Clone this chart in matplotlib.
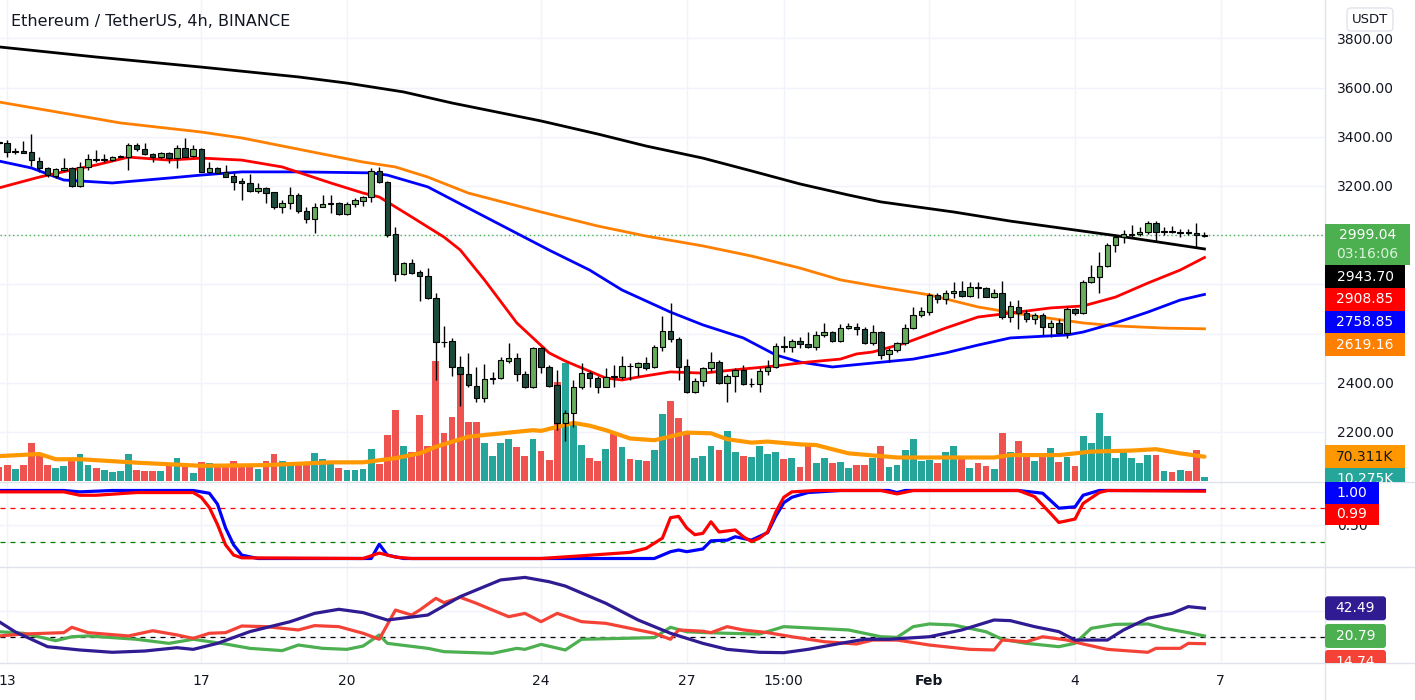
import matplotlib.pyplot as plt
import matplotlib.transforms as mtransforms
from matplotlib.patches import Rectangle, FancyBboxPatch
from matplotlib.lines import Line2D

# ---------------- data (ETH/USDT 4h candles) ----------------
OPEN = [3380, 3373, 3338, 3342, 3336, 3302, 3271, 3240, 3264, 3271,
        3199, 3278, 3308, 3306, 3305, 3317, 3319, 3366, 3348, 3329,
        3316, 3332, 3312, 3353, 3321, 3348, 3258, 3271, 3258, 3240,
        3221, 3210, 3181, 3190, 3174, 3116, 3129, 3163, 3099, 3064,
        3116, 3128, 3129, 3086, 3125, 3140, 3154, 3262, 3217, 3003,
        2841, 2885, 2849, 2834, 2743, 2567, 2570, 2465, 2435, 2388,
        2339, 2415, 2418, 2490, 2499, 2434, 2384, 2540, 2463, 2391,
        2238, 2276, 2381, 2441, 2418, 2384, 2425, 2422, 2468, 2463,
        2479, 2463, 2547, 2610, 2576, 2468, 2364, 2407, 2458, 2486,
        2397, 2427, 2452, 2394, 2395, 2449, 2462, 2547, 2546, 2569,
        2557, 2544, 2594, 2605, 2571, 2624, 2628, 2617, 2560, 2607,
        2517, 2533, 2560, 2621, 2675, 2689, 2757, 2739, 2763, 2774,
        2752, 2788, 2784, 2750, 2766, 2666, 2709, 2682, 2658, 2675,
        2625, 2641, 2601, 2698, 2685, 2811, 2828, 2874, 2960, 2994,
        3002, 3003, 3011, 3051, 3013, 3014, 3010, 3011, 3007, 2997]
HIGH = [3384, 3386, 3353, 3381, 3411, 3319, 3278, 3271, 3312, 3278,
        3298, 3330, 3346, 3330, 3321, 3325, 3373, 3376, 3376, 3335,
        3339, 3339, 3366, 3393, 3366, 3353, 3298, 3278, 3285, 3251,
        3231, 3248, 3210, 3194, 3177, 3143, 3194, 3173, 3116, 3132,
        3163, 3163, 3136, 3136, 3152, 3159, 3271, 3276, 3221, 3034,
        2892, 2902, 2858, 2865, 2766, 2631, 2580, 2509, 2522, 2465,
        2476, 2445, 2503, 2560, 2519, 2449, 2547, 2544, 2472, 2452,
        2289, 2411, 2482, 2449, 2427, 2458, 2472, 2509, 2479, 2486,
        2503, 2553, 2671, 2725, 2587, 2495, 2418, 2465, 2526, 2492,
        2434, 2458, 2472, 2418, 2458, 2492, 2560, 2590, 2576, 2587,
        2607, 2612, 2641, 2612, 2639, 2641, 2641, 2628, 2634, 2612,
        2540, 2567, 2639, 2709, 2706, 2763, 2763, 2777, 2811, 2815,
        2811, 2811, 2788, 2780, 2815, 2733, 2736, 2695, 2682, 2682,
        2655, 2658, 2706, 2702, 2817, 2878, 2933, 2966, 2996, 3021,
        3041, 3034, 3059, 3059, 3034, 3037, 3023, 3023, 3048, 3014]
LOW = [3370, 3316, 3328, 3332, 3281, 3258, 3237, 3231, 3262, 3197,
       3197, 3264, 3298, 3298, 3302, 3316, 3264, 3343, 3325, 3298,
       3308, 3292, 3274, 3316, 3319, 3255, 3254, 3251, 3235, 3183,
       3143, 3177, 3170, 3132, 3105, 3089, 3105, 3091, 3051, 3007,
       3113, 3089, 3082, 3082, 3116, 3118, 3136, 3210, 2991, 2815,
       2838, 2842, 2734, 2739, 2411, 2547, 2427, 2305, 2384, 2323,
       2323, 2393, 2414, 2482, 2408, 2380, 2377, 2438, 2384, 2208,
       2164, 2221, 2373, 2384, 2357, 2381, 2381, 2414, 2411, 2427,
       2452, 2458, 2530, 2567, 2411, 2360, 2360, 2387, 2445, 2395,
       2323, 2364, 2391, 2384, 2364, 2431, 2458, 2526, 2526, 2540,
       2540, 2533, 2584, 2567, 2567, 2617, 2594, 2557, 2553, 2495,
       2486, 2526, 2553, 2617, 2668, 2675, 2723, 2720, 2743, 2750,
       2750, 2743, 2747, 2743, 2658, 2648, 2617, 2648, 2639, 2594,
       2584, 2598, 2580, 2675, 2679, 2807, 2766, 2872, 2933, 2966,
       2994, 2996, 3003, 2973, 3000, 3007, 2994, 3000, 2953, 2991]
CLOSE = [3373, 3339, 3340, 3335, 3305, 3271, 3244, 3267, 3271, 3199,
         3278, 3308, 3306, 3308, 3316, 3320, 3366, 3348, 3328, 3316,
         3332, 3312, 3353, 3319, 3348, 3258, 3271, 3254, 3237, 3217,
         3210, 3181, 3190, 3173, 3116, 3129, 3163, 3099, 3064, 3116,
         3126, 3129, 3086, 3126, 3143, 3154, 3262, 3217, 3000, 2841,
         2885, 2847, 2834, 2743, 2567, 2565, 2465, 2435, 2391, 2339,
         2415, 2420, 2492, 2499, 2434, 2384, 2540, 2463, 2387, 2238,
         2276, 2381, 2441, 2418, 2384, 2425, 2424, 2468, 2467, 2479,
         2458, 2547, 2610, 2576, 2465, 2364, 2407, 2458, 2486, 2397,
         2427, 2452, 2393, 2395, 2449, 2462, 2549, 2546, 2569, 2557,
         2546, 2594, 2605, 2571, 2621, 2630, 2617, 2560, 2607, 2513,
         2533, 2560, 2621, 2675, 2691, 2757, 2739, 2763, 2774, 2752,
         2788, 2787, 2750, 2766, 2666, 2712, 2682, 2658, 2675, 2625,
         2641, 2601, 2698, 2685, 2811, 2828, 2874, 2960, 2994, 3003,
         3003, 3014, 3051, 3011, 3014, 3013, 3011, 3010, 3000, 2999.04]
# volume in thousands of ETH
VOLUME = [41, 46, 35, 46, 111, 72, 46, 38, 43, 58,
          78, 46, 38, 32, 26, 29, 78, 32, 29, 29,
          29, 43, 66, 46, 23, 55, 52, 46, 46, 58,
          46, 43, 35, 58, 78, 58, 46, 55, 55, 81,
          64, 52, 38, 32, 32, 35, 92, 49, 133, 205,
          101, 84, 191, 101, 347, 139, 185, 309, 171, 171,
          110, 72, 110, 121, 98, 72, 121, 87, 61, 286,
          341, 168, 104, 66, 58, 92, 136, 98, 64, 61,
          58, 90, 194, 231, 182, 139, 66, 72, 101, 90,
          145, 84, 72, 69, 101, 78, 84, 64, 66, 40,
          101, 52, 66, 52, 55, 38, 46, 46, 66, 101,
          40, 46, 90, 121, 58, 61, 52, 84, 101, 64,
          38, 52, 43, 35, 139, 84, 116, 69, 58, 69,
          95, 55, 69, 43, 130, 110, 197, 130, 66, 84,
          66, 52, 75, 75, 29, 26, 32, 29, 90, 10.275]
VOL_MA_IDX = [0, 5, 7, 10, 17, 25, 33, 41, 45, 49, 52, 54, 58, 60, 66, 67, 71, 73,
              75, 78, 81, 85, 88, 90, 93, 95, 99, 101, 105, 111, 117, 123, 125,
              131, 135, 140, 143, 146, 149]
VOL_MA = [72, 78, 63, 63, 53, 44, 46, 54, 54, 66, 80, 99, 128, 133, 147, 145, 168, 160,
          147, 123, 118, 140, 138, 121, 111, 114, 106, 104, 80, 68, 68, 68, 75,
          75, 85, 88, 92, 80, 70.311]

# moving averages (candle index, value)
BLACK_IDX = [0, 12, 25, 37, 43, 50, 56, 67, 74, 80, 87, 93, 99, 105, 109, 118, 125, 138, 149]
MA_BLACK = [3765, 3724, 3683, 3643, 3618, 3582, 3537, 3464, 3411, 3362, 3313, 3261, 3208,
            3163, 3135, 3094, 3057, 2998, 2943.70]
RED_IDX = [0, 5, 9, 12, 16, 21, 25, 30, 35, 41, 45, 47, 51, 55, 57, 60, 64, 68, 70, 75,
           77, 79, 83, 87, 92, 96, 100, 104, 106, 108, 112, 117, 121, 124, 130, 134, 138,
           142, 146, 149]
MA_RED = [3192, 3236, 3265, 3285, 3317, 3305, 3313, 3305, 3277, 3212, 3171, 3155, 3074,
          2992, 2940, 2818, 2643, 2521, 2488, 2419, 2411, 2423, 2444, 2439, 2456, 2468,
          2484, 2496, 2517, 2525, 2561, 2622, 2667, 2679, 2704, 2712, 2748, 2805, 2858,
          2908.85]
BLUE_IDX = [0, 4, 8, 14, 21, 25, 30, 37, 46, 48, 53, 58, 68, 73, 77, 83, 87, 92, 96, 99,
            103, 108, 113, 117, 121, 125, 132, 134, 138, 142, 146, 149]
MA_BLUE = [3301, 3273, 3224, 3212, 3232, 3244, 3257, 3257, 3253, 3244, 3196, 3110, 2939,
           2858, 2777, 2687, 2635, 2582, 2513, 2484, 2464, 2480, 2496, 2521, 2553, 2582,
           2594, 2606, 2643, 2687, 2736, 2758.85]
ORANGE_IDX = [0, 15, 25, 30, 45, 49, 53, 58, 67, 74, 80, 87, 93, 99, 104, 109, 115, 121,
              127, 134, 138, 144, 149]
MA_ORANGE = [3541, 3456, 3419, 3395, 3297, 3277, 3236, 3171, 3094, 3037, 2996, 2956, 2915,
             2866, 2818, 2789, 2757, 2708, 2675, 2643, 2631, 2622, 2619.16]

# stochastic (0..1)
K_IDX = [0, 8, 10, 14, 24, 26, 27, 28, 29, 30, 32, 46, 47, 48, 50, 81, 83, 84, 85, 87,
         88, 90, 91, 93, 95, 96, 97, 98, 100, 104, 110, 111, 112, 126, 129, 131, 133,
         134, 136, 149]
K_VAL = [1.0, 1.0, 0.98, 1.0, 1.0, 0.96, 0.8, 0.45, 0.2, 0.05, 0.0, 0.0, 0.21, 0.05, 0.0,
         0.0, 0.1, 0.125, 0.1, 0.14, 0.26, 0.27, 0.32, 0.27, 0.38, 0.62, 0.82, 0.9, 0.97,
         1.0, 1.0, 0.97, 1.0, 1.0, 0.96, 0.74, 0.76, 0.93, 1.0, 1.0]
D_IDX = [0, 8, 10, 12, 17, 24, 25, 26, 27, 28, 29, 30, 45, 47, 49, 51, 67, 72, 78, 80,
         82, 83, 84, 85, 86, 87, 88, 89, 91, 92, 93, 94, 95, 96, 97, 98, 101, 109, 111,
         113, 126, 128, 130, 131, 133, 134, 136, 137, 149]
D_VAL = [0.98, 0.98, 0.93, 0.93, 0.97, 0.97, 0.9, 0.75, 0.5, 0.2, 0.05, 0.01, 0.0, 0.08,
         0.02, 0.0, 0.0, 0.04, 0.09, 0.15, 0.3, 0.6, 0.62, 0.45, 0.35, 0.37, 0.54, 0.39,
         0.42, 0.32, 0.25, 0.3, 0.39, 0.68, 0.9, 0.98, 1.0, 1.0, 0.95, 1.0, 1.0, 0.91,
         0.66, 0.53, 0.58, 0.81, 0.97, 1.0, 0.99]

# DMI
ADX_IDX = [0, 2, 6, 10, 14, 18, 22, 24, 27, 31, 36, 39, 42, 45, 48, 53, 57, 62, 65, 68,
           70, 75, 79, 83, 87, 90, 94, 97, 100, 104, 107, 110, 115, 119, 123, 125, 128,
           131, 133, 137, 139, 142, 145, 147, 149]
ADX = [32, 24, 12.4, 9.8, 8, 9, 11.6, 10.3, 15, 24.2, 32, 38.5, 41.7, 39.1, 33.3, 37.2,
       51.6, 64.7, 66.7, 63.3, 59.9, 46.4, 33.3, 22.9, 15, 10.3, 8, 7.7, 10.3, 15, 18.2,
       18.2, 20.2, 25.5, 33.3, 32.8, 28.1, 24.2, 17.6, 17.6, 25.5, 34.6, 38.5, 43.8, 42.49]
PDI_IDX = [0, 3, 7, 9, 11, 17, 21, 24, 28, 31, 35, 37, 40, 43, 45, 47, 48, 53, 55, 61,
           64, 65, 67, 70, 72, 77, 81, 83, 85, 87, 90, 94, 97, 101, 105, 109, 111, 113,
           115, 118, 122, 124, 127, 131, 133, 135, 138, 142, 144, 147, 149]
PDI = [24.1, 22.9, 17.1, 20.2, 20.8, 18.2, 15, 18.2, 14.5, 11.1, 9.3, 13.7, 11.1, 10.3,
       12.9, 21.6, 15, 11.1, 8.5, 7.2, 11.1, 10.3, 14.2, 9.8, 18.2, 18.9, 19.5, 27.6, 24.1,
       23.5, 22.9, 22.3, 28.1, 26.8, 25.5, 20.2, 19.7, 28.1, 30.2, 29.4, 24.1, 18.2, 15,
       12.4, 15, 26.8, 29.9, 30.2, 26.8, 23.4, 20.79]
MDI_IDX = [0, 3, 8, 9, 11, 16, 19, 22, 24, 26, 28, 30, 33, 37, 39, 42, 45, 47, 49, 51,
           52, 54, 55, 57, 59, 61, 63, 65, 67, 69, 72, 75, 78, 81, 83, 84, 87, 88, 90, 92,
           95, 98, 102, 106, 108, 111, 115, 120, 123, 124, 127, 129, 132, 134, 137, 142,
           143, 146, 147, 149]
MDI = [20.8, 22.3, 23.4, 27.6, 23.4, 20.8, 24.9, 21.6, 18.9, 22.9, 23.4, 28.6, 28.1,
       25.5, 28.9, 28.1, 22.9, 18.2, 41.1, 37.2, 41.1, 50.3, 46.9, 51.1, 46.4, 41.1, 35.9,
       38.5, 32, 38.5, 32, 30.7, 26.8, 22.9, 18.2, 25.5, 24.5, 23.4, 28.1, 25.5, 23.4,
       20.2, 16.3, 14.5, 17.6, 17.6, 13.7, 10.3, 9.8, 17.6, 16.3, 20.2, 17.6, 14.5, 10.3,
       8, 11.1, 11.1, 15, 14.74]

DATE_POS = [1, 25, 43, 67, 85, 97, 115, 133, 151]
DATE_LABELS = ['13', '17', '20', '24', '27', '15:00', 'Feb', '4', '7']
PRICE_TICKS = [2200, 2400, 2600, 2800, 3000, 3200, 3400, 3600, 3800]
HIDDEN_TICKS = [2600, 2800, 3000]          # covered by the value tags

# ---------------- layout ----------------
W, H = 1415, 700
AX_R = 1325                       # left edge of the price scale (px)
MAIN_B, STOCH_B, DMI_B = 482, 567, 663
X_LIM = (0.12, 163.9)

GRID = '#f0f3fa'
SEP = '#e0e3eb'
TXT = '#131722'
BULL, BEAR = '#67ad5b', '#1d4a3b'
VOL_UP, VOL_DN = '#26a69a', '#ef5350'


def box(top, bottom, left=0, right=AX_R):
    return [left / W, 1 - bottom / H, (right - left) / W, (bottom - top) / H]


fig = plt.figure(figsize=(W / 100, H / 100), dpi=100)
ax_v = fig.add_axes(box(0, MAIN_B))
ax_p = fig.add_axes(box(0, MAIN_B))
ax_s = fig.add_axes(box(MAIN_B, STOCH_B))
ax_d = fig.add_axes(box(STOCH_B, DMI_B))
ax_v.set_zorder(0)
ax_p.set_zorder(1)
ax_p.patch.set_visible(False)

for ax in (ax_v, ax_p, ax_s, ax_d):
    ax.set_xlim(*X_LIM)
    for s in ax.spines.values():
        s.set_visible(False)
    ax.set_xticks(DATE_POS)
    ax.tick_params(length=0, labelsize=10, colors=TXT)
    ax.set_axisbelow(True)
for ax in (ax_v, ax_s, ax_d):
    ax.grid(axis='x', color=GRID, lw=1)
for ax in (ax_v, ax_p, ax_s):
    ax.tick_params(labelbottom=False)

idx = list(range(len(CLOSE)))
up = [c >= o for o, c in zip(OPEN, CLOSE)]

# price panel
ax_p.set_ylim(1996.4, 3955.7)
ax_p.yaxis.tick_right()
ax_p.set_yticks(PRICE_TICKS)
ax_p.set_yticklabels(['' if p in HIDDEN_TICKS else f'{p:.2f}' for p in PRICE_TICKS])
ax_p.tick_params(axis='y', pad=8.5)

trans = mtransforms.blended_transform_factory(ax_v.transAxes, ax_p.transData)
for p in PRICE_TICKS:
    ax_v.add_line(Line2D([0, 1], [p, p], transform=trans, color=GRID, lw=1, zorder=0.5))

# volume (behind the candles)
ax_v.set_ylim(-2.893, 481 * 2.893)
ax_v.set_yticks([])
ax_v.bar(idx, VOLUME, width=0.84, color=[VOL_UP if u else VOL_DN for u in up], zorder=1)
ax_v.plot(VOL_MA_IDX, VOL_MA, color='#ff9800', lw=3, zorder=2, solid_capstyle='round')

ax_p.axhline(CLOSE[-1], color='#4caf50', lw=1, ls=(0, (1, 2)), zorder=1)
ax_p.plot(ORANGE_IDX, MA_ORANGE, color='#ff8000', lw=2, zorder=2)
ax_p.plot(BLUE_IDX, MA_BLUE, color='#0000ff', lw=2, zorder=2)
ax_p.plot(RED_IDX, MA_RED, color='#ff0000', lw=2, zorder=2)
ax_p.plot(BLACK_IDX, MA_BLACK, color='#000000', lw=2, zorder=2)

ax_p.vlines(idx, LOW, HIGH, color='black', lw=1, zorder=3)
bottoms = [min(o, c) for o, c in zip(OPEN, CLOSE)]
heights = [max(abs(c - o), 2) for o, c in zip(OPEN, CLOSE)]
ax_p.bar(idx, heights, bottom=bottoms, width=0.68, color=[BULL if u else BEAR for u in up],
         edgecolor='black', lw=0.8, zorder=4)

# stochastic panel
ax_s.set_ylim(-0.125, 1.125)
ax_s.yaxis.tick_right()
ax_s.set_yticks([0.5])
ax_s.set_yticklabels(['0.50'])
ax_s.tick_params(axis='y', pad=8.5)
ax_s.grid(axis='y', color=GRID, lw=1)
ax_s.axhline(0.75, color='#ff0000', lw=0.9, ls=(0, (4, 4)))
ax_s.axhline(0.25, color='#008000', lw=0.9, ls=(0, (4, 4)))
ax_s.plot(K_IDX, K_VAL, color='#0000ff', lw=2.3, zorder=3)
ax_s.plot(D_IDX, D_VAL, color='#ff0000', lw=2.3, zorder=4)

# DMI panel
ax_d.set_ylim(-0.39, 74.84)
ax_d.yaxis.tick_right()
ax_d.set_yticks([20, 40])
ax_d.set_yticklabels(['', ''])
ax_d.grid(axis='y', color=GRID, lw=1)
ax_d.axhline(20, color='#000000', lw=0.9, ls=(0, (4, 4)))
ax_d.plot(PDI_IDX, PDI, color='#4caf50', lw=2.3, zorder=3)
ax_d.plot(MDI_IDX, MDI, color='#f44336', lw=2.3, zorder=3)
ax_d.plot(ADX_IDX, ADX, color='#311b92', lw=2.3, zorder=4)
ax_d.set_xticklabels(DATE_LABELS)
ax_d.tick_params(axis='x', pad=8)
ax_d.get_xticklabels()[DATE_LABELS.index('Feb')].set_fontweight('bold')

# pane separators and price scale border
for y in (MAIN_B, STOCH_B, DMI_B):
    fig.add_artist(Line2D([0, 1], [1 - y / H] * 2, transform=fig.transFigure, color=SEP, lw=1))
fig.add_artist(Line2D([AX_R / W] * 2, [0, 1], transform=fig.transFigure, color=SEP, lw=1))

fig.text(11 / W, 1 - 21 / H, 'Ethereum / TetherUS, 4h, BINANCE', fontsize=11.5,
         color=TXT, va='center', ha='left')


# ---------------- value tags on the scale ----------------
def strip(top, bottom):
    sax = fig.add_axes(box(top, bottom, AX_R, W))
    sax.set_xlim(0, W - AX_R)
    sax.set_ylim(bottom, top)
    sax.axis('off')
    sax.set_zorder(3)
    return sax


def ypx(ax, v):
    return H - ax.transData.transform((0, v))[1]


def tag(sax, yc, h, w, text, bg, fg, rounded=False):
    if rounded:
        p = FancyBboxPatch((0, yc - h / 2), w, h, boxstyle='round,pad=0,rounding_size=3',
                           fc=bg, ec='none')
    else:
        p = Rectangle((0, yc - h / 2), w, h, fc=bg, ec='none')
    sax.add_patch(p)
    sax.text(w / 2, yc, text, ha='center', va='center', color=fg, fontsize=10)


def stack(sax, ax, items, h, w, start, gap=0, rounded=False):
    prev = start
    for val, text, bg, fg in items:
        yc = max(ypx(ax, val), prev + gap + h / 2)
        tag(sax, yc, h, w, text, bg, fg, rounded)
        prev = yc + h / 2


sp = strip(0, MAIN_B)
y_last = ypx(ax_p, CLOSE[-1])
g_top = y_last - 11.5
sp.add_patch(Rectangle((0, g_top), 85, 41.5, fc='#4caf50', ec='none'))
sp.text(42.5, g_top + 11, f'{CLOSE[-1]:.2f}', ha='center', va='center', color='white', fontsize=10)
sp.text(42.5, g_top + 30, '03:16:06', ha='center', va='center', color='#dcf2dc', fontsize=10)
stack(sp, ax_p, [(MA_BLACK[-1], f'{MA_BLACK[-1]:.2f}', '#000000', 'white'),
                 (MA_RED[-1], f'{MA_RED[-1]:.2f}', '#ff0000', 'white'),
                 (MA_BLUE[-1], f'{MA_BLUE[-1]:.2f}', '#0000ff', 'white'),
                 (MA_ORANGE[-1], f'{MA_ORANGE[-1]:.2f}', '#ff8000', 'white')],
      22.7, 80, g_top + 41.5)

vol_y = ypx(ax_v, VOL_MA[-1])
tag(sp, vol_y, 22.7, 80, f'{VOL_MA[-1]:.3f}K', '#ff9800', TXT)
tag(sp, max(ypx(ax_v, VOLUME[-1]), vol_y + 22.7), 22.7, 80, f'{VOLUME[-1]:.3f}K', VOL_UP, 'white')

sp.add_patch(FancyBboxPatch((22, 8), 46, 23, boxstyle='round,pad=0,rounding_size=4',
                            fc='white', ec=SEP, lw=1))
sp.text(45, 19.5, 'USDT', ha='center', va='center', color=TXT, fontsize=9.5)

ss = strip(MAIN_B, STOCH_B)
stack(ss, ax_s, [(K_VAL[-1], f'{K_VAL[-1]:.2f}', '#0000ff', 'white'),
                 (D_VAL[-1], f'{D_VAL[-1]:.2f}', '#ff0000', 'white')],
      21.5, 54, MAIN_B)

sd = strip(STOCH_B, DMI_B)
stack(sd, ax_d, [(ADX[-1], f'{ADX[-1]:.2f}', '#311b92', 'white'),
                 (PDI[-1], f'{PDI[-1]:.2f}', '#4caf50', 'white'),
                 (MDI[-1], f'{MDI[-1]:.2f}', '#f44336', 'white')],
      24, 61, STOCH_B, gap=2, rounded=True)

fig.savefig('out.png', dpi=100)
